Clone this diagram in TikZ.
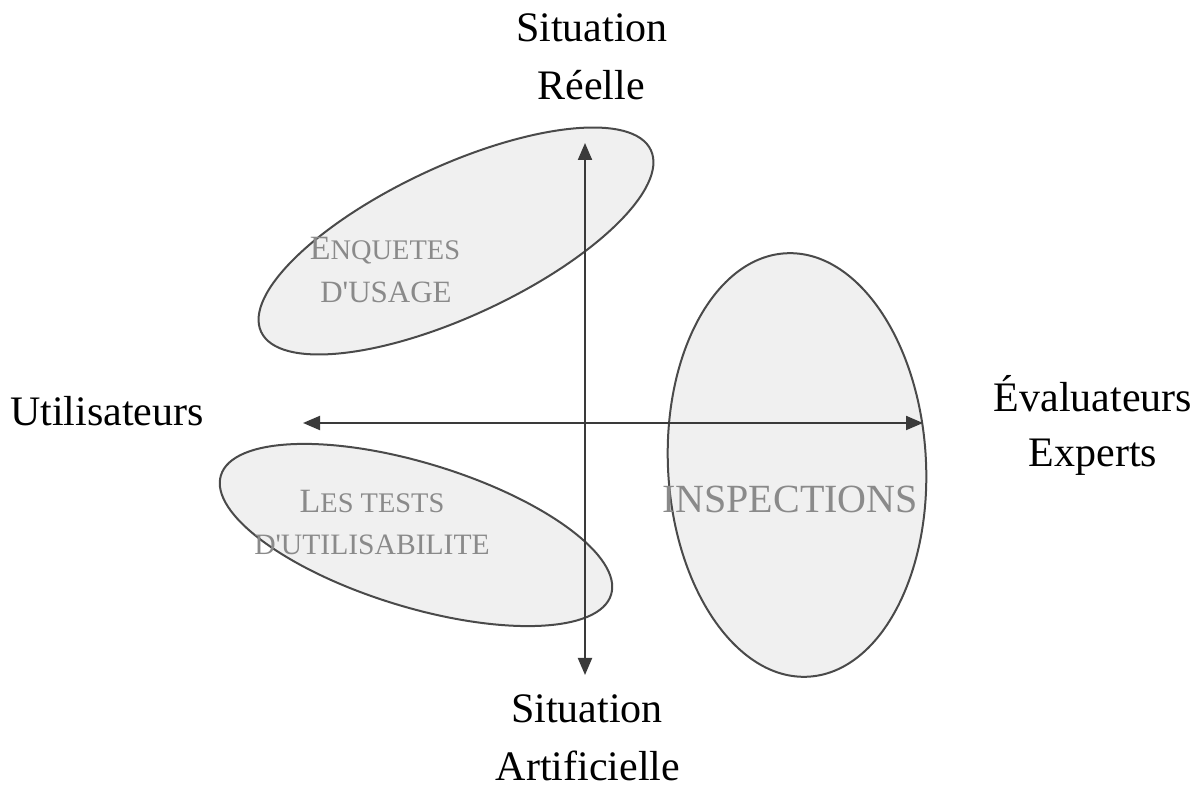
\documentclass[tikz,border=0pt]{standalone}
\usepackage{fontspec}
\setmainfont{Liberation Serif}
\newfontfamily\zonefont[Ligatures=TeXOff]{Liberation Serif}
\usetikzlibrary{shapes.geometric,arrows.meta}
\definecolor{edgegray}{HTML}{4A4A4A}
\definecolor{axisgray}{HTML}{3A3A3A}
\definecolor{zonefill}{HTML}{F0F0F0}
\definecolor{zonetext}{HTML}{8A8A8A}
\tikzset{
  zone/.style={draw=edgegray, fill=zonefill, ellipse, line width=1pt, inner sep=0pt, outer sep=0pt},
  axis/.style={draw=axisgray, line width=1pt, {Triangle[length=8.5pt,width=7pt]}-{Triangle[length=8.5pt,width=7pt]}},
  outer/.style={font=\fontsize{21}{25}\selectfont, inner sep=0pt, anchor=base, text=black},
  inner/.style={text=zonetext, inner sep=0pt, anchor=base},
}
\newcommand{\zbig}[1]{{\zonefont\fontsize{17}{20}\selectfont #1}}
\newcommand{\zsmall}[1]{{\zonefont\fontsize{14.2}{20}\selectfont #1}}
\begin{document}
\begin{tikzpicture}[x=0.5pt,y=0.5pt]
\useasboundingbox (0,0) rectangle (1204,787);
% zones
\node[zone, minimum width=215pt, minimum height=75pt, rotate=25] (enq) at (456,546) {};
\node[zone, minimum width=204pt, minimum height=72pt, rotate=-17] (tests) at (416,252) {};
\node[zone, minimum width=129pt, minimum height=212pt, rotate=3] (insp) at (797,322) {};
% axes
\coordinate (top) at (585,644);
\coordinate (bot) at (585,112);
\coordinate (left) at (303,364);
\coordinate (right) at (923,364);
\draw[axis] (bot) -- (top);
\draw[axis] (left) -- (right);
% zone texts
\node[inner] (t1) at (385,527) {\zbig{E}\zsmall{NQUETES}};
\node[inner, font=\zonefont\fontsize{15.5}{18}\selectfont] (t2) at (386,484) {D'USAGE};
\node[inner] (t3) at (372,274) {\zbig{L}\zsmall{ES TESTS}};
\node[inner, font=\zonefont\fontsize{14.8}{18}\selectfont] (t4) at (372,232) {D'UTILISABILITE};
\node[inner, font=\zonefont\fontsize{20}{24}\selectfont] (t5) at (790,274) {INSPECTIONS};
% outer labels
\node[outer] (s1) at (592,745) {Situation};
\node[outer] (s2) at (591,687) {Réelle};
\node[outer] (u) at (107,361) {Utilisateurs};
\node[outer] (e1) at (1093,375) {Évaluateurs};
\node[outer] (e2) at (1093,320) {Experts};
\node[outer] (s3) at (587,65) {Situation};
\node[outer] (s4) at (588,7) {Artificielle};
\end{tikzpicture}
\end{document}
